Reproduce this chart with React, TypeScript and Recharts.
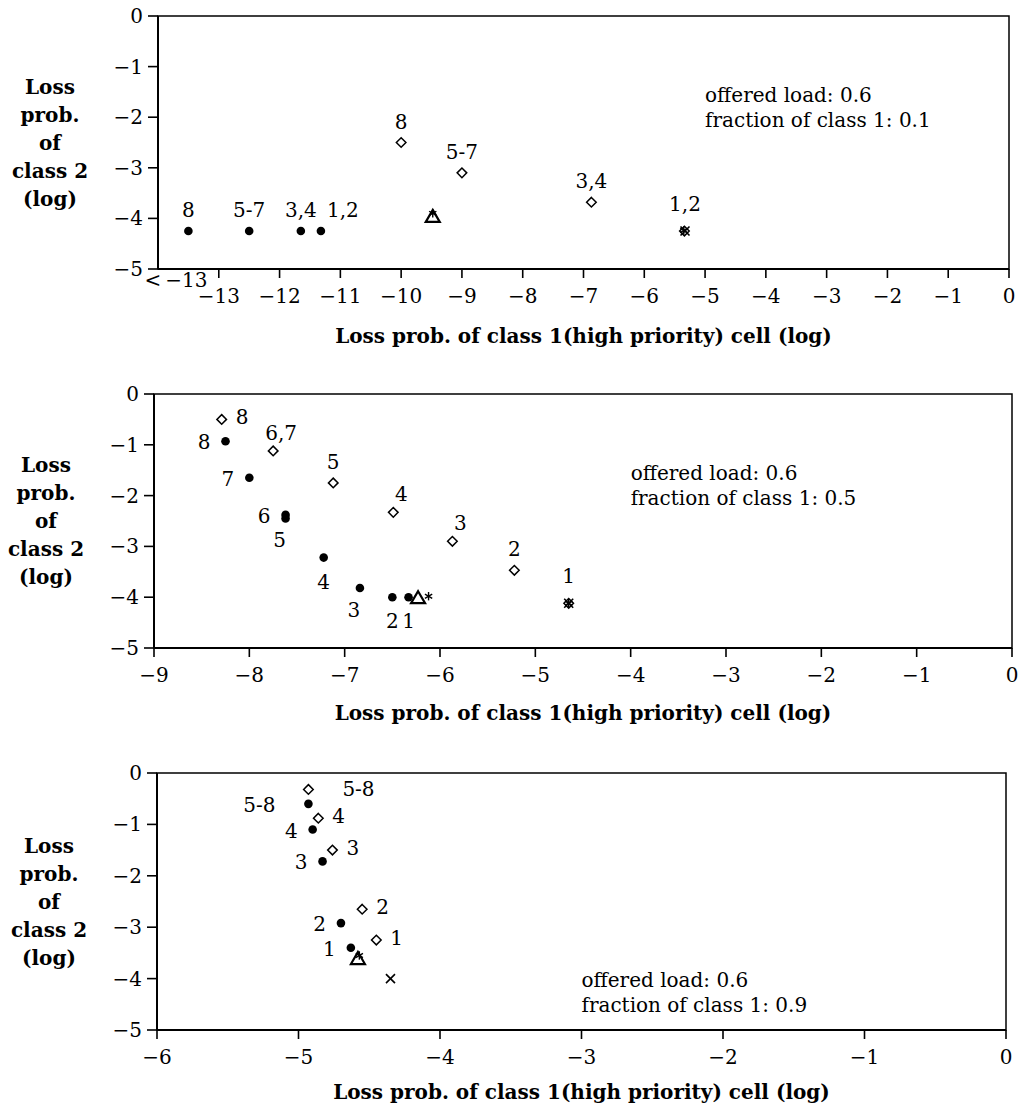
import React, { useLayoutEffect } from "react";
import { ScatterChart, Scatter, XAxis, YAxis, ReferenceArea } from "recharts";

// ---- shared axis values ----
const Y_TICKS = [0, -1, -2, -3, -4, -5];
const Y_TITLE = ["Loss", "prob.", "of", "class 2", "(log)"];
const X_TITLE = "Loss prob. of class 1(high priority) cell (log)";

// ---- panel 1 (fraction 0.1) ----
const P1_X_TICKS = [-14, -13, -12, -11, -10, -9, -8, -7, -6, -5, -4, -3, -2, -1, 0];
const P1_DOT_X = [-13.5, -12.5, -11.65, -11.32];
const P1_DOT_Y = [-4.25, -4.25, -4.25, -4.25];
const P1_DOT_LABELS = ["8", "5-7", "3,4", "1,2"];
const P1_DIA_X = [-10.0, -9.0, -6.87, -5.34];
const P1_DIA_Y = [-2.5, -3.1, -3.68, -4.25];
const P1_DIA_LABELS = ["8", "5-7", "3,4", ""];
const P1_TRI_X = [-9.48];
const P1_TRI_Y = [-3.95];
const P1_STAR_X = [-9.48, -5.35];
const P1_STAR_Y = [-3.9, -4.24];
const P1_CROSS_X = [-5.33];
const P1_CROSS_Y = [-4.25];
const P1_CROSS_LABELS = ["1,2"];
const P1_NOTE = ["offered load: 0.6", "fraction of class 1: 0.1"];
const P1_NOTE_AT = [-5.0, -1.56];

// ---- panel 2 (fraction 0.5) ----
const P2_X_TICKS = [-9, -8, -7, -6, -5, -4, -3, -2, -1, 0];
const P2_DOT_X = [-8.25, -8.0, -7.62, -7.62, -7.22, -6.84, -6.5, -6.33];
const P2_DOT_Y = [-0.93, -1.65, -2.38, -2.45, -3.22, -3.82, -4.0, -4.0];
const P2_DOT_LABELS = ["8", "7", "6", "5", "4", "3", "2", "1"];
const P2_DIA_X = [-8.29, -7.75, -7.12, -6.49, -5.87, -5.22, -4.65];
const P2_DIA_Y = [-0.5, -1.12, -1.75, -2.33, -2.9, -3.47, -4.12];
const P2_DIA_LABELS = ["8", "6,7", "5", "4", "3", "2", ""];
const P2_TRI_X = [-6.23];
const P2_TRI_Y = [-4.0];
const P2_STAR_X = [-6.12, -4.65];
const P2_STAR_Y = [-3.98, -4.12];
const P2_CROSS_X = [-4.65];
const P2_CROSS_Y = [-4.12];
const P2_CROSS_LABELS = ["1"];
const P2_NOTE = ["offered load: 0.6", "fraction of class 1: 0.5"];
const P2_NOTE_AT = [-4.0, -1.55];

// ---- panel 3 (fraction 0.9) ----
const P3_X_TICKS = [-6, -5, -4, -3, -2, -1, 0];
const P3_DOT_X = [-4.93, -4.9, -4.83, -4.7, -4.63];
const P3_DOT_Y = [-0.6, -1.1, -1.72, -2.92, -3.4];
const P3_DOT_LABELS = ["5-8", "4", "3", "2", "1"];
const P3_DIA_X = [-4.93, -4.86, -4.76, -4.55, -4.45];
const P3_DIA_Y = [-0.32, -0.88, -1.5, -2.65, -3.25];
const P3_DIA_LABELS = ["5-8", "4", "3", "2", "1"];
const P3_TRI_X = [-4.58];
const P3_TRI_Y = [-3.6];
const P3_STAR_X = [-4.57];
const P3_STAR_Y = [-3.55];
const P3_CROSS_X = [-4.35];
const P3_CROSS_Y = [-4.0];
const P3_NOTE = ["offered load: 0.6", "fraction of class 1: 0.9"];
const P3_NOTE_AT = [-3.0, -4.03];

// label placement per point (style only, kept apart from the values)
const P1_DOT_SIDES = ["top", "top", "top", "topright2"];
const P1_DIA_SIDES = ["top", "top", "top", "top"];
const P2_DOT_SIDES = ["left", "left", "left", "bottomleft", "bottom", "bottomleft", "bottom", "bottom"];
const P2_DIA_SIDES = ["right", "topright", "top", "topright", "topright", "top", "top"];
const P3_DOT_SIDES = ["farleft", "left", "left", "left", "left"];
const P3_DIA_SIDES = ["farright", "right", "right", "right", "right"];

const FONT = "'DejaVu Serif', serif";
const FS = 20;

const OFFSETS: Record<string, [number, number, string]> = {
  top: [0, -21, "middle"],
  top2: [0, -27, "middle"],
  topright2: [22, -21, "middle"],
  bottom: [0, 24, "middle"],
  left: [-15, 1, "end"],
  farleft: [-33, 1, "end"],
  right: [14, -2, "start"],
  farright: [34, 0, "start"],
  topright: [8, -18, "middle"],
  bottomleft: [-6, 22, "middle"],
};

const pts = (xs: number[], ys: number[], labels?: string[], sides?: string[]) =>
  xs.map((x, i) => ({ x, y: ys[i], label: labels ? labels[i] : "", side: sides ? sides[i] : "top" }));

const fmt = (v: number) => (v === 0 ? "0" : "\u2212" + Math.abs(v));

const PointLabel = ({ cx, cy, payload }: any) => {
  if (!payload || !payload.label) return null;
  const [dx, dy, anchor] = OFFSETS[payload.side] || OFFSETS.top;
  return (
    <text x={cx + dx} y={cy + dy} textAnchor={anchor as any} dominantBaseline="central"
      fontFamily={FONT} fontSize={FS} fill="#000">
      {payload.label}
    </text>
  );
};

const DotShape = (p: any) => (
  <g>
    <circle cx={p.cx} cy={p.cy} r={4.3} fill="#000" />
    <PointLabel {...p} />
  </g>
);

const DiamondShape = (p: any) => {
  const s = 4.8;
  return (
    <g>
      <path d={`M${p.cx},${p.cy - s}L${p.cx + s},${p.cy}L${p.cx},${p.cy + s}L${p.cx - s},${p.cy}Z`}
        fill="none" stroke="#000" strokeWidth={1.5} />
      <PointLabel {...p} />
    </g>
  );
};

const TriangleShape = (p: any) => {
  const w = 7, h = 12;
  return (
    <path d={`M${p.cx},${p.cy - h / 2}L${p.cx + w},${p.cy + h / 2}L${p.cx - w},${p.cy + h / 2}Z`}
      fill="none" stroke="#000" strokeWidth={2.2} strokeLinejoin="miter" />
  );
};

const StarShape = (p: any) => {
  const r = 4.2;
  const a = [90, 30, 150];
  return (
    <g stroke="#000" strokeWidth={1.4}>
      {a.map((deg) => {
        const t = (deg * Math.PI) / 180;
        return (
          <line key={deg} x1={p.cx - r * Math.cos(t)} y1={p.cy - r * Math.sin(t)}
            x2={p.cx + r * Math.cos(t)} y2={p.cy + r * Math.sin(t)} />
        );
      })}
    </g>
  );
};

const CrossShape = (p: any) => {
  const s = 4.5;
  return (
    <g>
      <g stroke="#000" strokeWidth={1.6}>
        <line x1={p.cx - s} y1={p.cy - s} x2={p.cx + s} y2={p.cy + s} />
        <line x1={p.cx - s} y1={p.cy + s} x2={p.cx + s} y2={p.cy - s} />
      </g>
      <PointLabel {...p} />
    </g>
  );
};

const noteShape = (lines: string[]) => (p: any) => (
  <text x={p.cx} y={p.cy} dominantBaseline="central" fontFamily={FONT} fontSize={FS} fill="#000">
    {lines.map((l, i) => (
      <tspan key={i} x={p.cx} dy={i === 0 ? 0 : 25}>{l}</tspan>
    ))}
  </text>
);

const XTick = ({ x, y, payload }: any) => {
  const v = payload.value;
  if (v === -14) {
    return (
      <text x={x + 18} y={y + 11} textAnchor="middle" dominantBaseline="central"
        fontFamily={FONT} fontSize={FS} fill="#000">
        {"<\u2009\u221213"}
      </text>
    );
  }
  return (
    <g>
      <line x1={x} x2={x} y1={y} y2={y + 9} stroke="#000" strokeWidth={1.6} />
      <text x={x} y={y + 27} textAnchor="middle" dominantBaseline="central"
        fontFamily={FONT} fontSize={FS} fill="#000">
        {fmt(v)}
      </text>
    </g>
  );
};

const YTick = ({ x, y, payload }: any) => (
  <g>
    <line x1={x - 10} x2={x} y1={y} y2={y} stroke="#000" strokeWidth={1.6} />
    <text x={x - 15} y={y} textAnchor="end" dominantBaseline="central"
      fontFamily={FONT} fontSize={FS} fill="#000">
      {fmt(payload.value)}
    </text>
  </g>
);

const XTitle = ({ viewBox, gap }: any) => {
  const vb = viewBox || {};
  return (
    <text x={vb.x + vb.width / 2} y={vb.y + gap} textAnchor="middle" dominantBaseline="central"
      fontFamily={FONT} fontSize={FS} fontWeight="bold" fill="#000">
      {X_TITLE}
    </text>
  );
};

const YTitle = (props: any) => {
  const vb = props.viewBox || {};
  const cx = vb.x + vb.width - 108;
  const cy = vb.y + vb.height / 2;
  return (
    <text textAnchor="middle" dominantBaseline="central" fontFamily={FONT} fontSize={FS}
      fontWeight="bold" fill="#000">
      {Y_TITLE.map((l, i) => (
        <tspan key={i} x={cx} y={cy + (i - 2) * 28}>{l}</tspan>
      ))}
    </text>
  );
};

interface PanelProps {
  top: number;
  height: number;
  margin: { top: number; right: number; bottom: number; left: number };
  titleGap: number;
  xTicks: number[];
  dots: any[];
  diamonds: any[];
  triangles: any[];
  stars: any[];
  crosses: any[];
  note: any[];
}

const Panel: React.FC<PanelProps> = ({ top, height, margin, titleGap, xTicks, dots, diamonds, triangles, stars, crosses, note }) => {
  const xMin = xTicks[0];
  return (
    <div style={{ position: "absolute", left: 0, top }}>
      <ScatterChart width={1019} height={height} margin={margin} style={{ overflow: "visible" }}>
        <XAxis type="number" dataKey="x" domain={[xMin, 0]} ticks={xTicks} interval={0}
          height={70} tickSize={0} tickMargin={0} tickLine={false} tick={<XTick />}
          axisLine={{ stroke: "#000", strokeWidth: 2 }} allowDataOverflow
          label={{ content: (p: any) => <XTitle {...p} gap={titleGap} /> }} />
        <YAxis type="number" dataKey="y" domain={[-5, 0]} ticks={Y_TICKS} interval={0}
          width={150} tickSize={0} tickMargin={0} tickLine={false} tick={<YTick />}
          axisLine={{ stroke: "#000", strokeWidth: 2 }} allowDataOverflow
          label={{ content: (p: any) => <YTitle {...p} /> }} />
        <ReferenceArea x1={xMin} x2={0} y1={-5} y2={0} fill="none" fillOpacity={0}
          stroke="#000" strokeWidth={1.5} />
        <Scatter data={note} shape={noteShape(note[0].lines)} isAnimationActive={false} />
        <Scatter data={diamonds} shape={DiamondShape} isAnimationActive={false} />
        <Scatter data={dots} shape={DotShape} isAnimationActive={false} />
        <Scatter data={triangles} shape={TriangleShape} isAnimationActive={false} />
        <Scatter data={stars} shape={StarShape} isAnimationActive={false} />
        <Scatter data={crosses} shape={CrossShape} isAnimationActive={false} />
      </ScatterChart>
    </div>
  );
};

const note = (at: number[], lines: string[]) => [{ x: at[0], y: at[1], lines }];

export default function App() {
  // page has no scroll: keep scrollbars from eating the right edge
  useLayoutEffect(() => {
    document.documentElement.style.overflow = "hidden";
    document.body.style.margin = "0";
  }, []);

  return (
    <div style={{ position: "relative", width: 1019, height: 1114, overflow: "hidden", background: "#fff" }}>
      <Panel
        top={0}
        height={360}
        margin={{ top: 16, right: 10, bottom: 21, left: 8 }}
        titleGap={67}
        xTicks={P1_X_TICKS}
        dots={pts(P1_DOT_X, P1_DOT_Y, P1_DOT_LABELS, P1_DOT_SIDES)}
        diamonds={pts(P1_DIA_X, P1_DIA_Y, P1_DIA_LABELS, P1_DIA_SIDES)}
        triangles={pts(P1_TRI_X, P1_TRI_Y)}
        stars={pts(P1_STAR_X, P1_STAR_Y)}
        crosses={pts(P1_CROSS_X, P1_CROSS_Y, P1_CROSS_LABELS, ["top2"])}
        note={note(P1_NOTE_AT, P1_NOTE)}
      />
      <Panel
        top={360}
        height={380}
        margin={{ top: 34, right: 7, bottom: 22, left: 4 }}
        titleGap={65}
        xTicks={P2_X_TICKS}
        dots={pts(P2_DOT_X, P2_DOT_Y, P2_DOT_LABELS, P2_DOT_SIDES)}
        diamonds={pts(P2_DIA_X, P2_DIA_Y, P2_DIA_LABELS, P2_DIA_SIDES)}
        triangles={pts(P2_TRI_X, P2_TRI_Y)}
        stars={pts(P2_STAR_X, P2_STAR_Y)}
        crosses={pts(P2_CROSS_X, P2_CROSS_Y, P2_CROSS_LABELS, ["top2"])}
        note={note(P2_NOTE_AT, P2_NOTE)}
      />
      <Panel
        top={740}
        height={374}
        margin={{ top: 33, right: 13, bottom: 14, left: 7 }}
        titleGap={62}
        xTicks={P3_X_TICKS}
        dots={pts(P3_DOT_X, P3_DOT_Y, P3_DOT_LABELS, P3_DOT_SIDES)}
        diamonds={pts(P3_DIA_X, P3_DIA_Y, P3_DIA_LABELS, P3_DIA_SIDES)}
        triangles={pts(P3_TRI_X, P3_TRI_Y)}
        stars={pts(P3_STAR_X, P3_STAR_Y)}
        crosses={pts(P3_CROSS_X, P3_CROSS_Y)}
        note={note(P3_NOTE_AT, P3_NOTE)}
      />
    </div>
  );
}
